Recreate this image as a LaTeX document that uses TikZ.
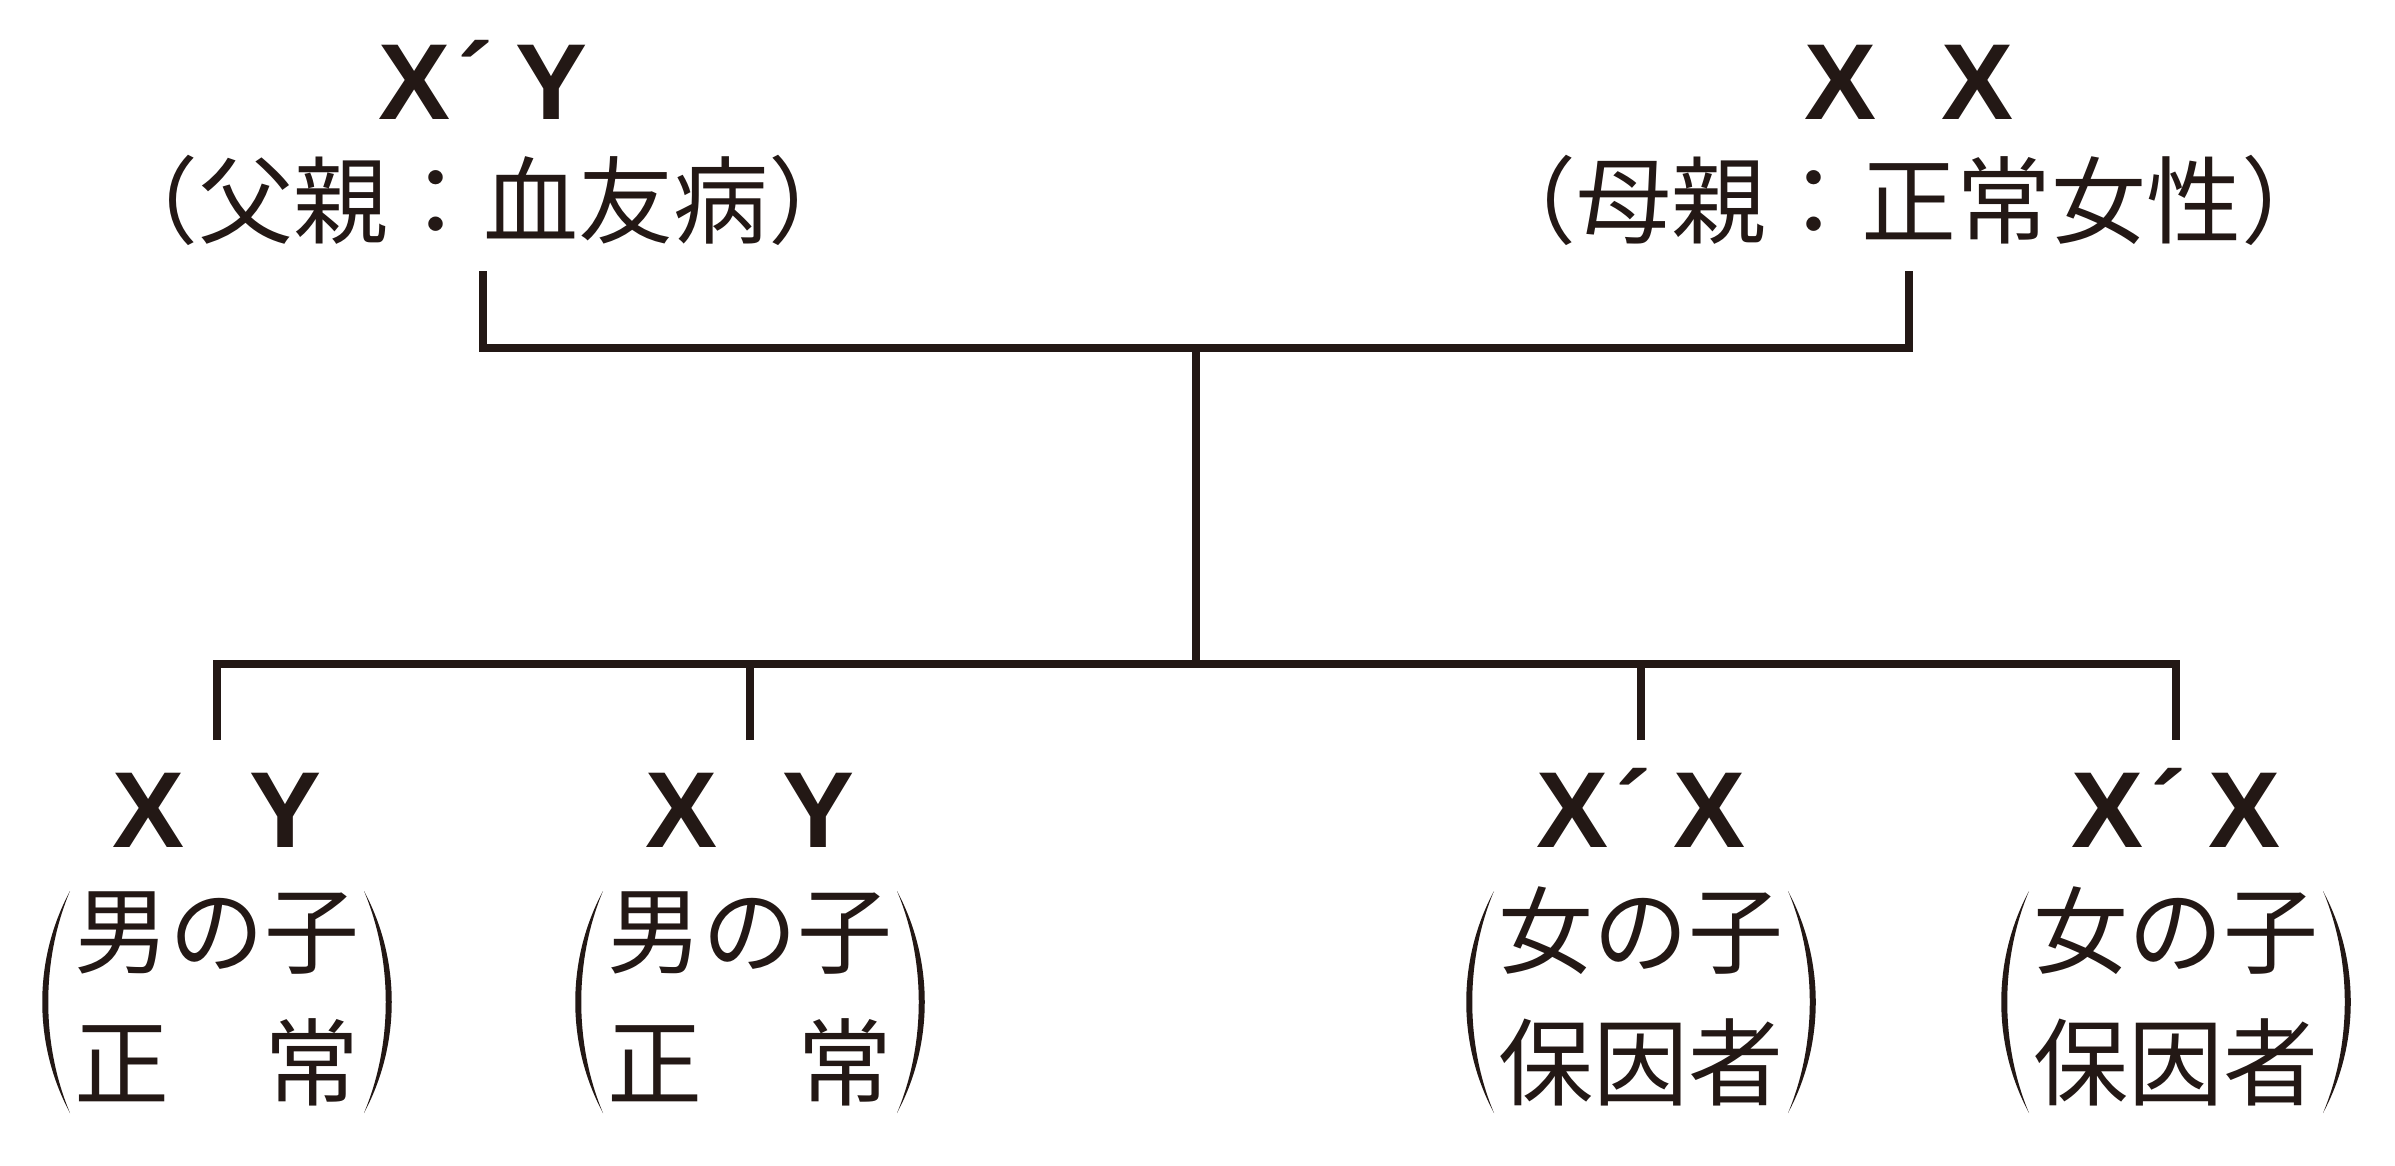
\documentclass[tikz,border=0pt]{standalone}
\usepackage{fontspec}
\setmainfont{Liberation Sans}
\newfontfamily\jp{Noto Sans CJK JP}
\definecolor{ink}{RGB}{35,24,21}
\newcommand\gfont{\fontsize{108}{108}\selectfont\bfseries}
\newcommand\jfont{\jp\fontsize{95}{95}\selectfont}
\newcommand\gene[3]{#1\makebox[0.6em][c]{\kern-0.14em #2}#3}
\newcommand\bigparens[1]{%
  \begin{scope}[xshift=#1pt]
    \fill[ink] (-147,891) .. controls (-184,960) and (-184,1044) .. (-147,1113)
               .. controls (-176,1044) and (-176,960) .. cycle;
    \fill[ink] (147,891) .. controls (184,960) and (184,1044) .. (147,1113)
               .. controls (176,1044) and (176,960) .. cycle;
  \end{scope}}
\begin{document}
\begin{tikzpicture}[x=1pt,y=-1pt,
  gene/.style={anchor=base,inner sep=0pt,text=ink,font=\gfont},
  jlabel/.style={anchor=base,inner sep=0pt,text=ink,font=\jfont},
  conn/.style={draw=ink,line width=8pt,line join=miter}]
\fill[white] (0,0) rectangle (2395,1165);
\useasboundingbox (0,0) rectangle (2395,1165);
% parents
\node[gene] (fatherg) at (483,119) {\gene{X}{´}{Y}};
\node[jlabel] (fatherl) at (483,236) {（父親：血友病）};
\node[gene] (motherg) at (1909,119) {\gene{X}{}{X}};
\node[jlabel] (motherl) at (1909,236) {（母親：正常女性）};
% connectors
\coordinate (fa) at (483,271);
\coordinate (mo) at (1909,271);
\coordinate (mate) at (1196,347.5);
\coordinate (sib) at (1196,664);
\coordinate (c1) at (217,740);
\coordinate (c2) at (750,740);
\coordinate (c3) at (1641,740);
\coordinate (c4) at (2176,740);
\draw[conn] (fa) |- (mate) -| (mo);
\draw[conn] (mate) -- (sib);
\draw[conn] (c1) |- (sib) -| (c4);
\draw[conn] (c2) -- (c2 |- sib);
\draw[conn] (c3) -- (c3 |- sib);
% children
\node[gene] (g1) at (217,847) {\gene{X}{}{Y}};
\node[jlabel] (a1) at (217,966) {男の子};
\node[jlabel] (b1) at (217,1098) {正　常};
\bigparens{217}
\node[gene] (g2) at (750,847) {\gene{X}{}{Y}};
\node[jlabel] (a2) at (750,966) {男の子};
\node[jlabel] (b2) at (750,1098) {正　常};
\bigparens{750}
\node[gene] (g3) at (1641,847) {\gene{X}{´}{X}};
\node[jlabel] (a3) at (1641,966) {女の子};
\node[jlabel] (b3) at (1641,1098) {保因者};
\bigparens{1641}
\node[gene] (g4) at (2176,847) {\gene{X}{´}{X}};
\node[jlabel] (a4) at (2176,966) {女の子};
\node[jlabel] (b4) at (2176,1098) {保因者};
\bigparens{2176}
\end{tikzpicture}
\end{document}
